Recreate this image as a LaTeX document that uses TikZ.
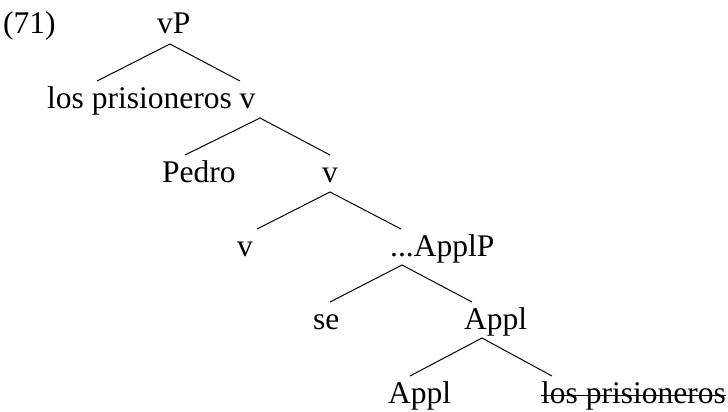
\documentclass[tikz,border=0pt]{standalone}
\usepackage{fontspec}
\setmainfont{Liberation Serif}
\begin{document}
\begin{tikzpicture}[x=1pt,y=-1pt,
  lbl/.style={anchor=base west,inner sep=0pt,font=\fontsize{31.5}{38}\selectfont},
  branch/.style={line width=1pt}]
\useasboundingbox (0,0) rectangle (728,412);
% labels
\node[lbl] (ex)   at (3,34)    {(71)};
\node[lbl] (vP)   at (157,34)  {vP};
\node[lbl] (lp1)  at (47,108)  {los prisioneros v};
\node[lbl] (pedro) at (162,182) {Pedro};
\node[lbl] (v1)   at (322,182) {v};
\node[lbl] (v2)   at (237,256) {v};
\node[lbl] (applP) at (390,256) {...ApplP};
\node[lbl] (se)   at (313,329) {se};
\node[lbl] (appl1) at (464,329) {Appl};
\node[lbl] (appl2) at (388,403) {Appl};
\node[lbl] (lp2)  at (541,403) {los prisioneros};
% branch points
\coordinate (a1) at (170,44);  \coordinate (a1l) at (97,81);   \coordinate (a1r) at (240,81);
\coordinate (a2) at (260,118); \coordinate (a2l) at (185,155); \coordinate (a2r) at (330,155);
\coordinate (a3) at (330,192); \coordinate (a3l) at (257,229); \coordinate (a3r) at (401,229);
\coordinate (a4) at (402,265); \coordinate (a4l) at (330,302); \coordinate (a4r) at (472,302);
\coordinate (a5) at (482,338); \coordinate (a5l) at (410,376); \coordinate (a5r) at (552,376);
\foreach \a in {a1,a2,a3,a4,a5}{
  \draw[branch] (\a l) -- (\a) -- (\a r);
}
% strike-through
\draw[line width=1pt] ([yshift=8pt]lp2.base west) -- ([yshift=8pt]lp2.base east);
\end{tikzpicture}
\end{document}
